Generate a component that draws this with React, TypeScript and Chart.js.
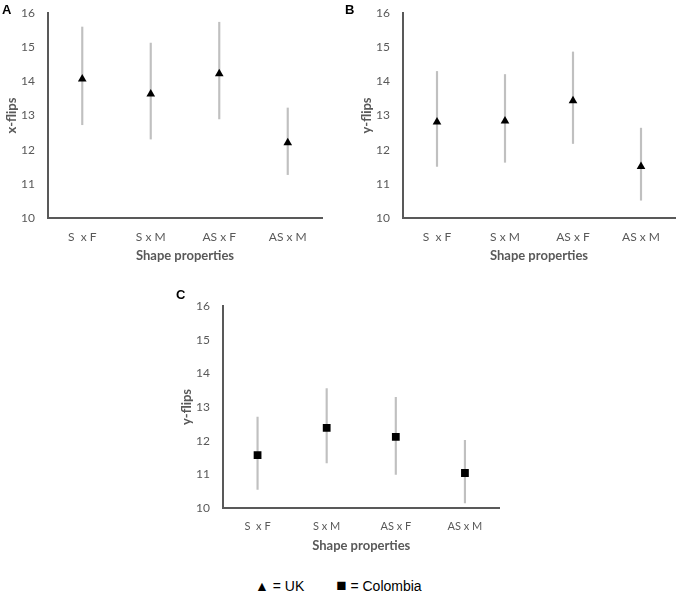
import React, { useEffect, useRef } from 'react';
import { Chart, registerables } from 'chart.js';

Chart.register(...registerables);

const categories = ['S  x F', 'S x M', 'AS x F', 'AS x M'];
const yTicks = [10, 11, 12, 13, 14, 15, 16];

// A: x-flips, UK
const ukXMean = [14.07, 13.63, 14.22, 12.2];
const ukXLow = [12.73, 12.31, 12.9, 11.27];
const ukXHigh = [15.59, 15.12, 15.73, 13.22];

// B: y-flips, UK
const ukYMean = [12.81, 12.84, 13.43, 11.51];
const ukYLow = [11.51, 11.63, 12.18, 10.52];
const ukYHigh = [14.29, 14.2, 14.86, 12.63];

// C: y-flips, Colombia
const colYMean = [11.57, 12.38, 12.11, 11.04];
const colYLow = [10.55, 11.34, 11.0, 10.15];
const colYHigh = [12.7, 13.55, 13.29, 12.01];

const GREY = '#595959';

type PanelProps = {
  mean: number[];
  low: number[];
  high: number[];
  marker: 'triangle' | 'rect';
  markerRadius: number;
  yTitle: string;
  catSize: number;
  width: number;
  height: number;
  rightPad: number;
};

const Panel: React.FC<PanelProps> = ({ mean, low, high, marker, markerRadius, yTitle, catSize, width, height, rightPad }) => {
  const chartRef = useRef<HTMLCanvasElement>(null);
  const chartInstance = useRef<Chart | null>(null);

  useEffect(() => {
    if (!chartRef.current) return;
    if (chartInstance.current) chartInstance.current.destroy();
    const ctx = chartRef.current.getContext('2d');
    if (!ctx) return;

    chartInstance.current = new Chart(ctx, {
      type: 'bar',
      data: {
        labels: categories,
        datasets: [
          {
            type: 'line',
            data: mean,
            showLine: false,
            pointStyle: marker,
            pointRadius: markerRadius,
            pointBackgroundColor: '#000000',
            pointBorderColor: '#000000',
            pointBorderWidth: 0,
            order: 0,
          },
          {
            type: 'bar',
            data: low.map((l, i) => [l, high[i]]),
            backgroundColor: '#c0c0c0',
            barThickness: 1.5,
            order: 1,
          } as any,
        ],
      },
      options: {
        animation: false,
        responsive: true,
        maintainAspectRatio: false,
        layout: { padding: { top: 13, right: rightPad, left: 0, bottom: 0 } },
        plugins: { legend: { display: false }, tooltip: { enabled: false } },
        scales: {
          x: {
            grid: { display: false, drawTicks: false },
            border: { display: true, color: GREY, width: 2 },
            ticks: { color: GREY, padding: 12, font: { family: 'Lato', size: catSize } },
            title: { display: true, text: 'Shape properties', color: GREY, font: { family: 'Lato', size: 13, weight: 'bold' } },
            afterFit: (s: any) => { s.height = 50; },
          },
          y: {
            min: 10,
            max: 16,
            // invisible tick marks push the labels away from the axis
            grid: { display: true, drawOnChartArea: false, drawTicks: true, tickLength: 13, color: 'rgba(0,0,0,0)' },
            border: { display: true, color: GREY, width: 2 },
            afterBuildTicks: (s: any) => { s.ticks = yTicks.map((v) => ({ value: v })); },
            ticks: { color: GREY, padding: 0, font: { family: 'Lato', size: 12 } },
            title: { display: true, text: yTitle, color: GREY, font: { family: 'Lato', size: 13, weight: 'bold' } },
            afterFit: (s: any) => { s.width = 48; },
          },
        },
      },
    });

    return () => {
      if (chartInstance.current) {
        chartInstance.current.destroy();
        chartInstance.current = null;
      }
    };
  }, []);

  return (
    <div style={{ position: 'relative', width, height }}>
      <canvas ref={chartRef} />
    </div>
  );
};

const letterStyle: React.CSSProperties = {
  position: 'absolute',
  fontFamily: '"Liberation Sans", Arial, sans-serif',
  fontWeight: 'bold',
  fontSize: 13,
  lineHeight: '13px',
  color: '#000',
};

const App: React.FC = () => {
  return (
    <div style={{ position: 'absolute', left: 0, top: 0, width: 680, height: 593, background: '#fff' }}>
      <div style={{ position: 'absolute', left: 0, top: 0 }}>
        <Panel mean={ukXMean} low={ukXLow} high={ukXHigh} marker="triangle" markerRadius={5} yTitle="x-flips" catSize={12} width={330} height={268} rightPad={8} />
      </div>
      <div style={{ position: 'absolute', left: 355, top: 0 }}>
        <Panel mean={ukYMean} low={ukYLow} high={ukYHigh} marker="triangle" markerRadius={5} yTitle="y-flips" catSize={12} width={325} height={268} rightPad={3} />
      </div>
      <div style={{ position: 'absolute', left: 175, top: 293 }}>
        <Panel mean={colYMean} low={colYLow} high={colYHigh} marker="rect" markerRadius={5.5} yTitle="y-flips" catSize={11} width={330} height={265} rightPad={4} />
      </div>
      <div style={{ ...letterStyle, left: 2, top: 3 }}>A</div>
      <div style={{ ...letterStyle, left: 345, top: 3 }}>B</div>
      <div style={{ ...letterStyle, left: 176, top: 288 }}>C</div>
      <div
        style={{
          position: 'absolute',
          left: 255,
          top: 577,
          fontFamily: '"Liberation Sans", Arial, sans-serif',
          fontSize: 14,
          lineHeight: '18px',
          color: '#000',
          whiteSpace: 'pre',
        }}
      >
        {'▲ = UK'}
        <span style={{ display: 'inline-block', width: 32 }} />
        <span style={{ fontSize: 17, lineHeight: '14px' }}>{'■'}</span>
        {' = Colombia'}
      </div>
    </div>
  );
};

export default App;
